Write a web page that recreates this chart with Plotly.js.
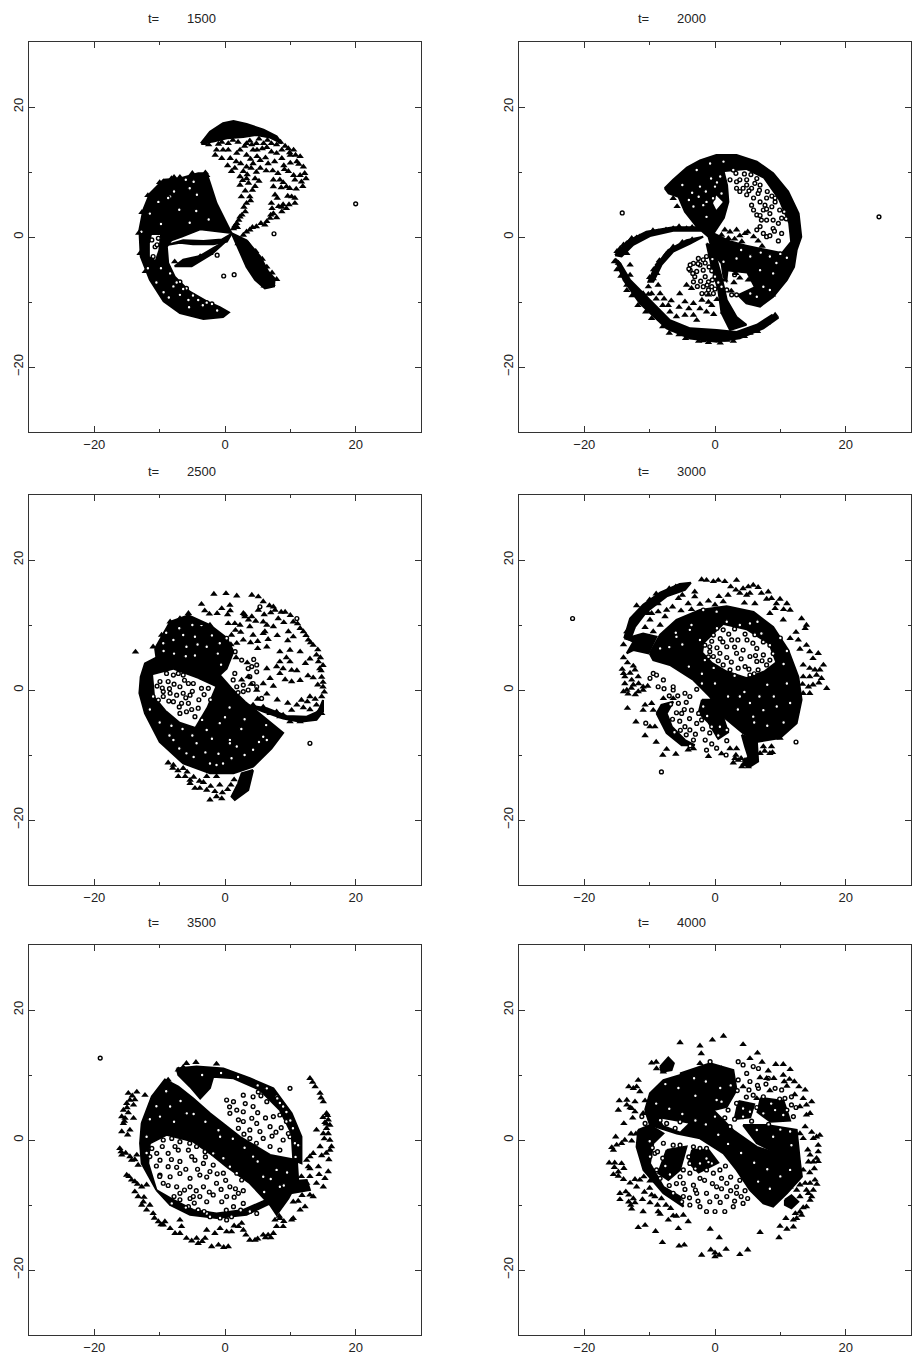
<!DOCTYPE html>
<html><head><meta charset="utf-8">
<script src="https://cdn.plot.ly/plotly-3.0.1.min.js"></script>
<style>html,body{margin:0;padding:0;background:#fff}</style></head>
<body><div id="chart" style="width:914px;height:1363px"></div>
<script>
const times=[1500,2000,2500,3000,3500,4000];
const tickValues=[-20,0,20];

const p1Black=[
[[-2.8,9.8],[-4.1,9.8],[-6.9,9.0],[-9.4,8.8],[-11.5,6.7],[-12.5,4.2],[-13.1,1.1],[-12.9,-3.0],[-11.5,-6.6],[-9.4,-9.9],[-6.9,-11.7],[-3.3,-12.6],[-0.3,-12.3],[0.6,-11.6],[-0.8,-10.8],[-2.8,-9.9],[-5.4,-8.4],[-7.7,-6.1],[-8.7,-4.0],[-8.9,-1.5],[-8.2,-0.5],[-6.6,0.05],[-3.8,1.2],[-0.3,0.8],[1.0,0.6],[0,2.6],[-1.3,5.2],[-2.3,8.3]],
[[-8.7,-1.2],[-6.4,-0.5],[-3.3,-0.6],[-0.5,-0.4],[1.0,0.5],[0.3,-0.7],[-1.8,-1.1],[-4.9,-1.1],[-6.9,-0.9]],
[[0.3,-0.5],[-2.0,-2.6],[-5.1,-4.5],[-7.7,-4.5],[-6.4,-3.5],[-3.8,-2.9],[-1.8,-1.7]],
[[-3.7,14.4],[-2.3,16.2],[-0.3,17.5],[1.3,17.85],[3.3,17.4],[5.9,16.5],[7.9,15.5],[8.7,14.4],[6.9,15.3],[4.8,15.7],[2.8,15.4],[0.3,15.2],[-1.8,14.7]],
[[1.0,0.6],[3.3,-0.5],[5.4,-3.0],[6.6,-5.3],[7.6,-6.4],[7.5,-7.6],[6.1,-7.9],[4.6,-6.6],[3.3,-4.6],[2.3,-2.25],[1.2,0.05]]
];
const p1White=[[[-11.2,0.3],[-9.95,0.3],[-10.2,-2],[-10.7,-3.5],[-11.5,-3],[-11.5,-1]]];
const p1Tri=[[-3.1,14.4],[-1.3,13.4],[-1.5,12.6],[-0.3,13.4],[0.5,13.4],[-0.5,12.1],[0.8,12.1],[1.8,12.9],[2.3,13.4],[3.3,14.4],[4.1,14.2],[4.3,13.4],[3.3,12.6],[4.8,14.4],[5.9,14.4],[7.1,14.4],[7.9,14.2],[7.1,13.1],[7.9,12.9],[8.7,13.4],[9.7,13.6],[10.5,13.4],[11.5,12.4],[11,11.6],[10,12.6],[8.7,12.1],[7.6,11.6],[6.6,11.3],[5.4,11.8],[4.3,11.3],[3.3,10.8],[1.5,10.6],[1,10.1],[2.8,10.1],[2.3,9.3],[4.6,9],[3.6,8.3],[2.3,8],[4.6,7.8],[3.8,6.2],[2.5,6.2],[3.3,5.2],[3.1,3.9],[2.3,3.1],[1.8,2.1],[1.3,1.3],[7.4,8.8],[8.4,8.8],[9.7,10.1],[10.5,9.5],[11.5,9.5],[12.2,9.8],[11.7,8.5],[10.7,8.8],[9.4,7.75],[7.4,7.75],[10.2,6.2],[7.65,6.5],[7.1,5.2],[8.2,4.7],[9.4,4.4],[10.7,5.2],[8.7,3.9],[7.4,3.6],[6.9,2.9],[6.1,1.85],[4.8,1.6],[3.8,1.1],[2.8,0.3],[-7.7,-3.8],[-5.9,-4],[-2.3,-2.5],[-3.8,-3],[-9.4,8.5],[-8.2,9],[-6.9,9.2],[-2.8,9.5],[3.8,14.8],[5.2,15.1],[6.5,14.9],[1.2,14.9],[-0.5,14.6],[3.4,9.6],[4,10.6],[9,11],[10,11.4],[3.1,7.1],[8,6],[8.9,5],[7.2,4.4]];
const p1TriB=[[-2.5,14.2],[-1,14.3],[0.5,14.4],[2,14.6],[3,14],[4.9,13.4],[5.7,13.6],[6.4,13.8],[8.5,14.6],[9.2,14],[9.9,13],[10.8,12.6],[11.3,11.2],[12,10.8],[12.4,9],[11.9,7.8],[10.9,7.4],[9.9,7.5],[8.9,8.4],[8.1,9.8],[7.3,10.2],[6.3,10.2],[5.4,10.6],[4.8,10],[5.2,8.6],[3.3,9],[2.7,8.7],[4.2,7.2],[3.9,5.6],[2.9,4.6],[2.6,3.4],[2.1,2.6],[1.5,1.7],[1.9,1.5],[7.9,3],[7,3.4],[6.4,2.4],[5.5,2.1],[4.2,1.5],[3.3,0.8],[8.7,4.6],[9.8,5],[9.6,6.3],[10.7,6],[3.9,12],[4.9,12.4],[6.2,12.2],[2.4,11.3],[1.7,11.6],[0.4,11],[9.1,10.4],[8.6,7.6],[-3,9.9],[-5,9.8],[-7.8,9.2],[-10,8.4],[-11.8,6.4],[-12.7,3.8],[-13.2,0.6],[-13,-2.5],[-12.2,-5.3],[2,-1],[3.5,-1],[4.7,-2.2],[5.7,-3.4],[6.4,-4.6],[7.2,-5.5],[7.9,-6.5],[7.2,-7.3],[6,-7.5]];
const p1Cir=[[7.5,0.5],[-1.2,-2.8],[-0.2,-6],[1.4,-5.8],[20,5.1],[-10.2,-0.2],[-10.7,-1.5],[-10.4,-1.2],[-11,-3],[-11.2,-0.45],[-8.4,6.2],[-8.7,6],[-12.8,0.8],[-8.4,-5.6],[-6.9,-6.9],[-7.9,-7.6],[-5.9,-7.9],[-6.9,-8.9],[-5.6,-9.7],[-4.1,-9.7],[-2.8,-10.1],[-2,-10.3],[-4.8,8.5],[-5.4,7.5],[-4.3,6.5],[-7.4,-7],[-6.4,-8],[-4.9,-9],[-3.4,-10.5],[-11.5,3.6],[-10.2,5.4],[-7.8,7],[-6,8.8],[-9.8,2],[-7,4.2],[-4.4,4],[-2.5,2.7],[-5.4,2.2],[-11.8,-4.8],[-10.5,-7],[-9.4,-8.5],[-8.6,-9.3],[-1.2,-11.3],[-5.5,-10.8],[-9.8,-4.8]];

const p2Black=[
[[-7.7,7.5],[-6.4,8.8],[-4.3,10.7],[-2.3,11.8],[0.2,12.6],[3.3,12.6],[6.4,11.6],[8.9,9.8],[11.2,7],[12.8,3.6],[13.2,0],[12.5,-2],[12.1,-4.6],[11,-6.6],[8.9,-9.2],[6.9,-10.7],[4.8,-10.2],[2.8,-8.2],[1.3,-6.1],[1,-4.05],[-0.3,-2.5],[-1,0.05],[-2.8,1.6],[-4.6,3.9],[-5.6,6.2],[-7.1,6.7]],
[[-15.3,-3.3],[-14,-6.6],[-11.5,-10.2],[-7.4,-14.05],[-3.8,-15.6],[0.25,-16.1],[3.8,-15.6],[7.4,-14.05],[9.7,-12.4],[8.7,-12],[6.4,-13.5],[3.3,-14.6],[0.25,-14.3],[-3.8,-14.05],[-6.9,-12.8],[-9.96,-9.7],[-13,-6.6],[-14.5,-4.05]],
[[-1.3,-1],[-0.3,-1.5],[1,-6.1],[1.8,-9.7],[3.3,-12.3],[4.8,-13.5],[2.3,-14.3],[1,-11.7],[0.5,-8.15],[-0.5,-4.6]],
[[-1.8,0.05],[-4.35,-0.5],[-7.15,-2],[-9.2,-4.6],[-10.2,-6.9],[-9.45,-6.9],[-8.2,-4.3],[-6.4,-2.25],[-3.8,-1]],
[[-15.3,-2.8],[-13.5,-0.7],[-10.5,0.8],[-6.4,1.5],[-2.55,1.5],[-2.3,0.97],[-6.4,0.97],[-9.96,0.15],[-12.5,-1.2],[-14.3,-3]]
];
const p2White=[
[[1.5,10],[4.8,10.3],[7.4,9],[9.7,5.7],[11.2,2.1],[11.5,-0.7],[10.2,-2.3],[7.4,-1.7],[4.8,-1.2],[2.3,-0.5],[0,0.6],[1.5,2.9],[2.2,5.4],[2,8]],
[[2.05,-5.3],[4.85,-5.6],[5.9,-7.65],[3.3,-8.9],[1.8,-7.65]],
[[0.2,6.4],[1.2,5.4],[0.2,4.2],[-0.3,5.2]]
];
const p2Tri=[[-13,-4.3],[-13,-5.85],[-8.7,-4.05],[-8.9,-5.6],[-9.45,-6.4],[-10.2,-7.65],[-8.7,-7.4],[-9.7,-8.7],[-8.4,-8.7],[-4.35,-7.4],[-3.6,-7.9],[-4.6,-9.95],[-5.4,-8.7],[-3.3,-10.2],[-7.15,-10.5],[-6.9,-11.5],[-5.9,-12.25],[-4.6,-12],[-3.3,-12],[-2.8,-12.8],[-1.3,-11.5],[-0.5,-10.5],[-1,-8.9],[-2,-9.7],[1.5,-10.2],[1.3,-11.5],[-6.4,5.95],[-5.8,4.7],[1,0.3],[1.5,1.1],[2.3,0.8],[3.3,1.1],[4.1,-0.7],[4.6,0.55],[5.9,0.05],[2.05,-0.2],[-14.5,-1.75],[-12.75,-0.2],[-11.5,0.05],[-8.7,0.8],[-6.4,1.3],[-4.35,1.3],[-13.5,-2.5],[-14.8,-4],[-13.5,-7.4],[-11.5,-9.2],[-8.9,-12.25],[-6.65,-14.3],[-1.8,-15.95],[1.8,-15.85],[5.35,-14.8],[9.2,-12],[3.8,-6.3],[2.9,-7],[5.1,-6.6],[3.2,-5.6]];
const p2TriB=[[-15,-2.2],[-14,-1.2],[-13,-0.6],[-12,-0.1],[-10.5,0.4],[-9.5,1],[-7.5,1.1],[-5.5,1.6],[-3.5,1.5],[-2.7,1.3],[-15.4,-3.8],[-15,-5],[-14.4,-6],[-13.5,-8.2],[-12.7,-9],[-11.8,-10.5],[-10.6,-11.5],[-9.7,-12.5],[-8,-13.8],[-7,-14.8],[-5.5,-15],[-4.5,-15.6],[-2.5,-16],[-1,-16.2],[0.8,-16.3],[2.8,-16],[4.5,-15.3],[6.5,-14.5],[8,-13.2],[-10,-6.2],[-9.4,-5],[-8.5,-3.6],[-7.5,-2.7],[-6.4,-1.5],[-5,-0.8],[-3.5,-0.4],[-10.2,-8.8],[-9,-9.5],[-8,-10.5],[-7.8,-9.5],[-6.7,-9.8],[-5.5,-10.8],[-4,-11],[-2.3,-11],[-1,-10],[-0.2,-11.9],[0.3,-9.6],[-10.5,-9.5],[-11,-8.7],[4.7,-9.2],[5.7,-10],[7.2,-9.9],[8.8,-8.9],[9.6,-7.6],[10.4,-6.6],[11,-5.2],[8,-6.6],[7,-6],[5.8,-6.2],[4.5,-5.2],[6,-4.6],[3.3,-4.5],[2,-4.7],[1.5,-6.6],[2.5,-8.3],[6.6,-0.6],[7.2,-1.4],[3,-0.3],[3.8,0.2],[5,0.8]];
const p2Cir=[[25.1,3.1],[-14.2,3.7],[2.8,10.3],[2.3,8.8],[3.3,8.5],[3.8,8.8],[4.85,8.8],[6.4,9],[6.9,8],[3.3,7.5],[4.3,7.5],[5.6,7.5],[6.6,6.7],[4.85,6.5],[5.9,6],[6.9,5.4],[7.9,6],[5.6,4.9],[5.9,4.15],[6.4,3.4],[7.4,4.15],[8.4,3.6],[7.9,2.6],[8.9,2.6],[6.9,1.6],[7.4,0.55],[8.9,1.3],[9.9,4.15],[8.7,4.65],[9.7,2.1],[10.2,0.55],[7.9,0.05],[9.2,5.4],[10.2,2.9],[6.4,1.1],[7.1,2.6],[4.85,8],[6.1,8.25],[3.8,7],[7.65,4.9],[-1.3,-3],[-1.8,-3.5],[-2.55,-3.3],[-3.3,-4.05],[-3.8,-5.1],[-2.8,-5.3],[-1.8,-5.1],[-3.3,-6.9],[-1.8,-7.65],[-1,-6.9],[-1,-8.15],[-2,-8.7],[-1.3,-8.7],[-0.25,-8.7],[1.8,-8.15],[2.55,-8.9],[0,-6.1],[-3.8,-4.3],[-2.3,-4.3],[-3.1,-6.1],[-1.5,-6.1],[-0.5,-7.65],[1,-7.65],[3.3,-8.9],[-0.3,5.95],[-1.3,5.4],[-1.8,4.9],[0,7.75],[-2.3,7.75],[-3.3,4.7],[-1.3,3.1],[1,6.7],[8.4,-3],[5.4,-3],[3.3,-3.3],[1.3,-3.8],[9.4,-4],[6.9,-5.1],[8.9,-5.6],[7.4,-7.65],[5.4,-8.7],[8.4,-8.15],[6.4,-9.2],[-0.75,11.3],[1.3,11.6],[-2.8,10.3],[-4,-4.9],[-3.4,-5.6],[-2.6,-4.1],[-1.5,-4],[-0.9,-4.6],[-0.5,-5.2],[-0.4,-3.4],[-2.2,-6.8],[-2.7,-7.6],[-0.4,-6.6],[-1.2,-7.4],[0.5,-7],[0,-8],[8,7],[8.7,6.3],[9.2,6],[10.6,3.9],[10.9,2.8],[9.1,0.9],[8.4,0.2],[9.7,-0.6],[3.2,9.8],[4.5,9.7],[5.5,9.6],[5.2,7.1],[6.8,7.2],[7.9,4.3],[6.9,3.3],[-5,8],[-3.5,6.8],[-2.5,6.2],[-4,5.7],[-0.6,9],[0.8,9.3],[-1.4,7],[0.3,8.4],[4,-2],[7,-2.4],[10,-2.6],[11,-3.2],[3,-5.8]];

const p3Black=[
[[-12.9,2.05],[-12.25,4.1],[-10.5,5],[-7.4,4.6],[-3.8,4.1],[-0.8,2.3],[1,0.25],[3.05,-1.8],[5.85,-4.1],[8.9,-6.6],[7.1,-9],[4.3,-11.8],[1.3,-12.8],[-2.3,-12.8],[-6.4,-11.3],[-10,-8],[-12.25,-3.6],[-13.1,-0.5]],
[[-10.7,6.4],[-8.4,10.5],[-5.6,11.5],[-2.3,10],[0.25,8],[1.3,5.9],[0.25,3.3],[-0.8,2.3],[-3.8,4.1],[-10.5,5]],
[[4.3,-12.3],[3.55,-15.4],[1.5,-16.9],[1,-16.4],[2,-14.4],[2.55,-12.8]],
[[3.3,-2.3],[6.4,-2.8],[9.4,-4],[12.5,-4.1],[14.3,-3.3],[15,-1.55],[15,-3.3],[14,-4.6],[11.5,-4.9],[8.9,-4.4],[5.85,-3.3]]
];
const p3White=[[[-11,2.3],[-7.9,3.1],[-4.35,1.8],[-1.5,0.5],[-2.8,-2.6],[-4.6,-5.65],[-6.9,-4.9],[-9,-3.1],[-10.7,-1.05]]];
const p3Tri=[[-8.7,-11.2],[-7.9,-11.55],[-6.4,-12.05],[-7.15,-13.3],[-6.1,-13.3],[-5.35,-13.85],[-5.35,-14.35],[-4.6,-15.1],[-3.85,-15.1],[-2.8,-15.4],[-1.55,-15.6],[-2.3,-16.9],[-1.3,-16.4],[-0.5,-16.7],[-2.8,-13.3],[-1.3,-13.3],[-1.7,14.75],[0.15,14.85],[1.8,14.5],[4.1,14.6],[5.1,14.35],[5.85,13.6],[-3.6,13.2],[-3.1,12.2],[-2.4,11.7],[-0.5,12.55],[0.75,13.05],[2.8,11.8],[3.05,11.3],[4.1,11.3],[5.1,12.3],[5.85,10.5],[6.4,10],[6.1,9],[7.4,12.8],[7.65,12.3],[9.2,12],[8.15,11],[10.45,10.5],[7.4,9.75],[9.7,9],[11.5,9.5],[12,9],[10.45,8.2],[12.75,7.7],[13.5,6.9],[14,5.4],[14.3,4.35],[14.5,3.3],[14.8,2],[15,0.5],[14.8,-1],[14.5,-3.1],[14,-2.3],[13,-1],[11.7,-1.55],[11,-2.3],[10.2,-3.1],[8.9,-3.85],[7.9,-3.35],[5.85,-2.6],[4.3,-2.3],[6.4,6.65],[8.4,5.9],[9.95,6.15],[11.5,5.9],[8.4,4.35],[9.95,4.35],[6.4,3.3],[7.9,3.6],[10.2,3.05],[8.4,2.55],[11.5,1.5],[10.2,1.3],[6.9,1.8],[5.85,1],[4.85,0],[3.55,2.05],[2.55,1.55],[2.8,7.7],[1.8,7.2],[1,8.45],[0.5,10.25],[1.5,10.25],[2.3,10],[3.8,9.75],[5.85,8.7],[4.3,8.45],[6.9,-3.6],[8.4,-4.1],[9.95,-4.85],[11.5,-4.85],[13.5,-4.35],[14.8,-3.6],[-13.7,5.85],[-8.4,10.5],[-6.9,11],[-5.6,11.8],[-3.85,10.25],[-2.3,10],[-11,6.65],[-9.7,8.45]];
const p3TriB=[[-8,-12],[-7.2,-12.4],[-5.8,-12.6],[-4.8,-13.4],[-3.9,-14],[-3.3,-14.2],[-2.2,-14.8],[-0.8,-14.6],[-0.4,-15.8],[0.4,-15.3],[0.9,-14.6],[1.4,-13.8],[3,11.6],[3.6,10.8],[6.8,13],[7,11.9],[8.6,12],[10,11.5],[9,10.4],[11.1,10.2],[12.4,8.4],[13.1,7.3],[14.2,6.2],[14.6,5],[15,3.8],[14.7,3],[15,1.2],[15.2,-0.3],[14.2,0.8],[13.8,-1.4],[12.6,-1.8],[12,-2.7],[13,-3],[9.4,5],[8.9,3.3],[12.3,4.1],[13,4.8],[12.7,2.2],[13.5,1.9],[11,3],[9.2,1.6],[7.4,0.6],[6.4,-0.6],[5,-1.4],[8,-1.5],[9.6,-2],[4,0.9],[3.4,4.2],[5,6.4],[3.9,7.3],[5,7.5],[6.6,7.8],[8,8.4],[9.6,7.6],[6,11.6],[4.7,10.6],[0.8,12.2],[-1.2,11.8],[0.4,11.6],[1.6,9.2],[2.4,8.9],[0.9,7],[1.7,5]];
const p3Cir=[[2.55,4.6],[4.4,4.7],[4.1,3.6],[4.85,3.85],[3.55,3.3],[4.85,2.8],[3.8,2.05],[1.5,2.55],[1.25,1.55],[1.8,0.5],[2.8,0.75],[4.3,1],[4.85,0.5],[3.55,0],[2.8,-0.25],[2,-0.4],[5.6,-1.3],[5.35,12.8],[11,11],[13,-8.2],[-8.95,2.55],[-7.9,2.3],[-7.15,2.55],[-6.4,2.3],[-5.6,1],[-4.85,1],[-3.6,0.25],[-2.55,0.25],[-9.95,1.3],[-8.7,1.3],[-6.9,0.5],[-8.4,-0.5],[-7.4,-0.8],[-6.4,-0.5],[-9.45,-1],[-10.2,-1.55],[-7.9,-1.8],[-6.65,-2.05],[-5.6,-2.05],[-4.1,-2.8],[-5.9,-3.35],[-4.6,-4.1],[-6.9,-3.6],[-9.45,-0.25],[-5.35,-0.8],[-2.3,-11.3],[-1.3,-11.55],[-0.3,-11.3],[-4.35,-8.2],[0.75,-7.7],[5.85,-7.2],[-7.9,-7.7],[-5.9,-9.75],[-0.8,-5.1],[-2.8,-6.15],[1.8,-8.7],[4.3,-9.2],[6.4,-7.7],[0.75,-8.2],[-4.6,8.2],[-6.4,8.45],[-3.6,10],[0.25,7.95],[1.55,5.9],[-0.8,7.2],[-7.9,7.7],[-9.45,7.2],[-5.9,6.65],[-2.8,6.65],[-8.5,0.2],[-6.2,1.5],[-5,-0.2],[-4,-1.5],[-5.1,-3],[-6,-1.2],[-7,-2.6],[-8.6,-1.7],[-9.6,0.3],[-10.4,0.6],[-7.8,0.9],[-3.2,-0.7],[-2.2,-1.5],[-11,-1],[-11.5,-3],[-10,-5],[-8.5,-7],[-7,-9],[-4.8,-10.3],[-3,-9.6],[-1,-9.8],[1,-10.5],[3,-10],[5.2,-8],[2.5,-6],[0,-4.2],[-2,-7.5],[-5,-7],[-6.5,-6],[-8.2,-5.5],[-3.5,-4.6],[0.7,-2.7],[3,-4.5],[6.3,-5.4],[-9,8.8],[-7,9.5],[-5,10],[-4.2,7],[-2,8.4],[-1.1,5.6],[-7.8,5.6],[-9.4,6],[-6,5.2],[-4.6,5.3],[-0.6,3.9]];

const p4Black=[
[[-10,5.6],[-8.4,8.5],[-5.9,10.8],[-2.3,12.3],[1.8,12.9],[5.9,12],[8.9,9.7],[11.2,6.15],[12.75,2.05],[13.25,-1.5],[12.5,-5.1],[9.95,-7.4],[6.6,-7.95],[4.3,-6.65],[1.25,-4.1],[-0.8,-1],[-3.3,1.55],[-6.9,3.85],[-9.45,4.6]],
[[-8.95,-3.6],[-8.2,-2.3],[-6.4,-1.8],[-7.4,-3.6],[-6.6,-5.65],[-4.6,-7.7],[-3.1,-8.5],[-5.1,-8.5],[-7.4,-6.65]],
[[-13.9,7.95],[-13,11],[-11,13.1],[-8.4,15],[-5.4,16.3],[-3.7,16.5],[-4.6,15.4],[-7.4,14.4],[-10.5,12],[-12.25,9.7],[-13,7.7]],
[[-13.5,7.95],[-11,8.7],[-8.95,8.2],[-10.2,5.65],[-12.5,6.15],[-13.5,5.65],[-12.5,7.4]],
[[4.1,-6.9],[6.4,-7.7],[6.6,-11],[5.35,-11.8],[4.1,-11.5],[5.1,-10.25],[4.6,-8.7]],
[[-2,-1.5],[0,-1.5],[1.2,-4],[2,-6.5],[0.5,-7.5],[-1,-5],[-2.5,-3.5]]
];
const p4White=[[[-1.6,7.2],[1.3,10],[4.8,9.2],[8.2,7],[9.2,4.3],[7.5,3],[4.8,2],[1.8,3],[-0.4,4.3],[-1.8,5.8]]];
const p4Tri=[[-2.05,17],[-1.3,16.9],[-0.25,16.7],[0.5,16.9],[1.5,16.7],[3.3,16.9],[4.3,15.6],[5.1,15.9],[5.85,16.15],[6.6,15.8],[3.8,14.9],[5.35,14.9],[7.1,14.9],[8.15,15.1],[8.65,14.1],[9.95,14],[11,13.3],[11.5,12.3],[9.2,12.55],[8.4,11.8],[6.1,13.3],[4.85,14.6],[2,14.6],[1.25,13.6],[0,13.1],[-1,13.7],[-3.1,15.1],[-3.1,14.35],[-4.1,13.3],[-5.6,14.1],[-7.4,12.3],[-8.7,13.3],[-8.7,12.05],[-10.2,11.8],[-9.7,11.8],[-11.2,11.8],[-12.5,11],[-9.95,10.8],[-7.65,11.3],[-8.4,10],[-10.7,9.65],[-9.45,9],[-12.75,9.75],[11.5,7.95],[12.75,7.7],[13.25,11],[14,10],[13.8,9.5],[10.45,10.8],[14,6.9],[14.5,5.9],[15.8,5.65],[15,4.85],[13.5,3.85],[14.5,3.35],[16.6,3.85],[16.05,3.1],[14.5,2.05],[13.5,2.05],[15.55,2.3],[16.3,1.8],[14.3,0.5],[13.5,-0.5],[14.5,-0.5],[17.1,0.25],[-14,2.55],[-13.8,2.05],[-12.75,1.55],[-11.75,2.05],[-13.8,1],[-12.5,0.8],[-14,-0.25],[-13.5,0],[-11.75,-0.25],[-11,0],[-12.25,3.1],[-11,0.5],[-13.4,-2.8],[-12.1,-4.9],[-11,-3.1],[-9.7,-2.05],[-10.7,-2.3],[-9.45,-3.1],[-9.95,-5.65],[-9.2,-5.65],[-10.7,-7],[-7.4,-9.1],[-6,-9.85],[-4.1,-9.2],[-3.3,-9],[2.3,-9],[3.3,-9],[3.05,-10.5],[3.55,-10.8],[4.1,-11.8],[4.6,-10.8],[5.1,-11.8],[6.9,-9.75],[7.4,-8.7],[8.65,-8.7],[9.95,-7.4],[8.4,-9.75],[-6.4,-1.3],[-7.9,-1.3]];
const p4TriB=[[-12,13],[-10,13.9],[-9,14.8],[-7,15.6],[-6,15.9],[-12.8,10.2],[-13.5,9],[-14,7],[-14,5],[-13.4,4.2],[-12.5,3.7],[-14.2,3.2],[-13,2.6],[-12.8,0.3],[-13.3,-0.6],[-11.7,1],[-10.3,0.6],[-12.2,-0.7],[-5,14.6],[-6.5,12.8],[-5.2,12.2],[-3.6,12.4],[-2.3,13.2],[0.6,14.4],[2.4,15.9],[3.2,15.4],[4.5,13.4],[7.9,14],[9.4,13.3],[10.5,12.4],[12.4,8.9],[13,6.3],[15.3,3.1],[15,0.8],[15.9,1.1],[13.4,0.9],[-9,-8],[-8,-10],[-1,-10.2],[1,-9.8],[2.8,-11.2],[3.2,-10],[4,-10.5],[5.8,-10.4],[7.6,-9.4],[8.8,-9.6]];
const p4Cir=[[-21.8,11],[-1.8,12.3],[0.25,12.05],[-2.3,7.7],[-1.55,6.9],[-0.8,5.9],[-1.55,4.6],[-0.25,5.15],[0.75,5.65],[1.8,6.65],[2.55,7.7],[3.3,5.65],[4.3,6.15],[5.35,5.15],[6.4,6.4],[7.4,5.4],[8.4,6.9],[1.25,3.85],[2.3,3.1],[3.55,3.35],[5.35,2.3],[6.6,3.1],[7.9,3.85],[1.8,10.5],[3.8,10],[5.35,10.25],[7.1,8.7],[-0.25,8.45],[1.25,9.25],[-0.8,6.65],[-9.45,2.55],[-8.95,2.3],[-9.95,1.8],[-8.7,0.5],[-7.9,1.55],[-6.4,0],[-5.6,-2.05],[-3.85,-1],[-5.1,-3.6],[-3.6,-3.1],[-1.8,-2.55],[-2.8,-5.15],[-4.6,-5.65],[-3.85,-6.15],[-2.05,-4.6],[-0.5,-5.65],[0.75,-5.65],[1.8,-6.15],[-3.3,-7.7],[-1.3,-9.25],[-0.5,-8.3],[0.25,-8.95],[1.7,-10],[-10.6,-5.1],[-8.2,-12.6],[12.4,-8],[-6.4,0.5],[3.8,-1],[5.35,-2],[7.4,-3.1],[9.45,-2.55],[5.85,-4.1],[-5.9,8.2],[-3.85,9.25],[-6.9,6.65],[-0.5,7.5],[0.3,9.5],[0.8,7.9],[2.1,8.6],[3,9.4],[4.6,8.6],[4.9,7.7],[6.1,8.5],[7.4,7.4],[6.2,5.3],[5.8,7.2],[3.5,7.7],[3,6.6],[1.2,7.4],[0.3,6.5],[-1,5.1],[0.5,4.5],[1.8,5],[2.5,4.3],[4,4.8],[4.6,3.6],[6.4,4.4],[7.2,4.5],[8.4,4.6],[8.9,5.6],[5.2,3.2],[3,2.2],[6,2.5],[-0.2,3.4],[-7.8,0.2],[-7,-0.9],[-5.7,-0.9],[-4.6,-0.5],[-2.8,0.1],[-4.4,-1.9],[-6.8,-2.2],[-4.7,-3],[-5.9,-3.5],[-5.4,-4.8],[-3.9,-4.4],[-2.5,-3.6],[-1.2,-4],[-1.9,-6],[-3,-6.8],[-4.4,-6.9],[-0.8,-6.6],[0.5,-7],[1.8,-7.8],[-1.5,-7.7],[-3.8,-8.6],[-5.3,-6.2],[-6.2,-6.5],[-6.5,-4.5],[-7,6.6],[-5,7],[-4,3.6],[-2,2.5],[0,1],[2,-1],[3.5,-3],[6,-5],[8,-5.5],[10.5,-5],[11.5,-2],[11,1],[10.5,4],[11,6],[10,8],[6.5,10.5],[-3.6,10],[-6,8.8],[-2,1],[6.8,-1],[9,-1],[8,0.8],[4.5,-0.3],[-8.4,6.4]];

const p5Black=[
[[-12.75,2.6],[-11.2,6.7],[-9.2,9.3],[-7.15,8.2],[-4.85,6.4],[-2.3,4.1],[2.3,0.5],[6.9,-2.3],[11,-3.1],[11.2,-6.15],[9.7,-9],[7.9,-11.5],[6.9,-10],[3.8,-6.65],[0.25,-4.1],[-2.3,-2.05],[-4.85,-0.25],[-8.95,0.8],[-11.5,-0.5],[-11.75,-3.6],[-10.5,-7.7],[-12.75,-3.6],[-13,-0.5]],
[[-7.4,11],[-4.35,11.3],[-0.25,11],[3.8,9.5],[7.4,7.95],[10.2,4.1],[11.7,0.5],[11.7,-3.6],[10.45,-3.1],[10.2,1],[8.4,4.6],[5.35,7.7],[1.3,9.5],[-1.8,9.75],[-2.3,8],[-3.8,6.4],[-5.35,8.2],[-7.15,10]],
[[-10.5,-7.7],[-8.4,-10],[-5.35,-11.5],[-1.3,-12],[3.3,-11.5],[6.9,-9.75],[6.4,-9.2],[2.8,-10.75],[-1.3,-11.3],[-4.85,-10.75],[-7.9,-9.2]],
[[9.7,-6.4],[12.5,-6.15],[13,-7.7],[11,-8],[9.95,-8.2]]
];
const p5White=[];
const p5Tri=[[-14.8,7.2],[-13.5,7.4],[-12.25,6.9],[-14.55,6.15],[-15.05,5.65],[-14,5.4],[-15.55,4.6],[-15.8,3.6],[-14,3.35],[-15.3,3.35],[-15.55,2.55],[-15.8,1.3],[-14.55,1.55],[-16.1,-1.3],[-15.8,-2.3],[-14.55,-2.55],[-14.3,-3.1],[-13.5,-2.3],[-13.3,-3.85],[-15.05,-5.4],[-14.3,-6.15],[-13.8,-6.4],[-12.75,-7.2],[-12,-6.9],[-13.8,-7.95],[-13.3,-8.7],[-12.5,-9.5],[-12.75,-10],[-12,-10.75],[-11,-11.3],[-10.2,-12.55],[-9.2,-12.55],[-9.45,-13.05],[-7.65,-14.35],[-6.9,-12.3],[-6.65,-13.3],[-6.9,-14.35],[-5.9,-15.1],[-4.35,-15.1],[-4.1,-15.9],[-3.05,-15.1],[-2.8,-13.85],[-2.05,-16.4],[-1,-16.15],[-1.55,-14.35],[-0.75,-13.6],[0.25,-14.1],[1,-14.1],[0.5,-16.4],[2.05,-13.3],[2.8,-13.85],[3.8,-15.4],[4.6,-15.4],[2.55,-12.8],[5.85,-14.6],[6.6,-14.6],[7.4,-14.35],[7.65,-12.3],[8.4,-12.05],[7.9,-13.3],[8.9,-13.3],[10.2,-12.3],[10.45,-12.05],[11.5,-10.75],[12.25,-10.25],[10.45,-9.5],[13,-8.45],[13.5,-8.7],[14,-6.65],[15.05,-7.2],[15.8,-4.85],[15.3,-5.9],[14.3,-4.1],[12.75,-4.1],[11.7,-5.6],[12.5,-3.1],[13,-2.55],[13.5,-2.05],[14.55,-1],[15.05,1],[14,1.55],[16.3,-1],[16.05,0],[15.55,1.8],[15.8,3.1],[15.55,4.1],[15.05,5.9],[14.55,7.2],[13.8,8.2],[13,9.5],[-7.15,10.8],[-5.9,11.8],[-4.45,11.95],[-1.3,11.7],[-8.7,9.25],[10.45,-6.65],[11.5,-7.2],[12.5,-6.65],[10.2,-7.7],[13,-5.6],[16.05,-1.55],[15.8,1],[16.05,2.3]];
const p5TriB=[[-14.2,6.8],[-13.8,6.2],[-15,5],[-14.8,4.2],[-15.4,2.9],[-14.9,0.8],[-15.9,-1.8],[-15.2,-2],[-13.8,-3],[-14.7,-5.6],[-13.4,-6.8],[-12.4,-8.8],[-11.5,-10],[-10.8,-12],[-9.8,-13],[-8.4,-13.6],[-5.1,-15.5],[-3.5,-15.6],[-0.2,-16.5],[1.4,-13.2],[3.2,-14.6],[5,-15.2],[6.2,-15],[7,-15],[9,-12.5],[8.3,-11.7],[11.2,-9.4],[11.8,-8.5],[12.4,-7.4],[11,-6.9],[13,-4.4],[14.4,-5.3],[14.8,-2.4],[15.5,-2],[15.9,-3],[15.2,0.2],[15.3,2.7],[15,3.5],[15.7,3.8],[15.5,2.5],[14.7,6.5],[13.4,8.9],[-6.5,10.6],[-6.4,11.2]];
const p5Cir=[[-19.1,12.6],[9.95,7.95],[0.25,6.15],[1.3,5.9],[2.8,6.9],[4.3,6.65],[5.1,7.4],[6.4,7.95],[7.9,6.65],[8.9,5.15],[6.4,5.9],[4.3,5.15],[2.8,4.35],[1.8,4.6],[0.75,4.1],[4.1,3.35],[2.05,3.1],[2.8,2.85],[4.85,2.55],[7.4,3.6],[8.4,3.85],[9.4,2.85],[6.9,2.05],[5.35,1.3],[2.05,1.8],[3.8,1.55],[3.8,0.25],[5.85,0.25],[8.9,0],[9.95,0.5],[10.7,-0.5],[8.4,-1.55],[6.9,-1],[-9.45,0],[-8.15,0.25],[-6.9,-0.25],[-5.6,-1.55],[-4.35,-1],[-3.05,-1.8],[-1.8,-2.05],[-7.15,-1.55],[-8.7,-2.05],[-10.45,-2.05],[-11.5,-2.55],[-8.7,-4.1],[-6.9,-3.3],[-5.1,-2.55],[-4.6,-3.1],[-3.3,-3.6],[-1.8,-3.85],[-0.25,-2.8],[0.75,-4.1],[1.8,-5.1],[2.55,-6.15],[-0.25,-5.1],[-2.3,-4.85],[-3.85,-5.4],[-5.35,-5.9],[-6.9,-5.15],[-8.4,-5.65],[-9.95,-5.4],[-9.45,-6.65],[-7.4,-7.2],[-5.35,-7.2],[-3.3,-7.2],[-1.3,-6.65],[0.75,-7.2],[2.05,-8.2],[0.25,-8.7],[-1.8,-8.45],[-3.85,-8.7],[-5.35,-9],[-6.9,-9.2],[-8.15,-9.75],[-5.6,-10.25],[-4.1,-10.75],[-2.8,-11.3],[-0.75,-12],[2.8,-9.75],[4.85,-11.3],[1.3,-10.25],[-4.85,-8.7],[-6.9,-8.2],[-9.95,-3.1],[-11.2,-1.3],[-7.65,-1],[-2.3,-11.8],[0.25,-12.3],[3.8,-11],[-5.85,4.1],[-8.4,5.15],[-9.95,3.6],[-0.75,0.5],[4.3,-2.55],[5.85,-5.65],[8.4,-7.2],[7.9,-4.6],[5,4.2],[6.2,3.4],[7.8,1.2],[8.6,1.9],[9.7,1],[7.2,0.6],[4.8,-0.5],[2.9,0.9],[0.7,5.1],[3.1,5.6],[5.5,6.8],[8.4,5.7],[9.4,4.3],[-10.5,-4],[-10,-5.6],[-8.7,-7],[-8.2,-3],[-7.4,-4.2],[-6,-4.5],[-4.2,-4.5],[-2.8,-5.7],[-1.2,-5.2],[0.1,-6.2],[1.6,-7.5],[-0.6,-7.6],[-2.4,-8],[-4.4,-7.8],[-6.2,-7.7],[-7.8,-8.7],[-9.6,-1],[-5.4,-0.5],[-3,-2.6],[1.4,-8.8],[-0.5,-9.5],[-2.8,-9.5],[-4.7,-9.7],[-6,-10.4],[-3.2,-11],[1,-11.8],[2.4,-10.8],[0.2,-10.8],[2.8,-7.8],[-9,7.5],[-10.5,5.2],[-11.5,3.2],[-6.8,6],[-4.8,4],[-7.8,2.8],[-3,2.8],[-1,1.5],[1.2,0.2],[3,-1.2],[5,-3.3],[7,-6],[6,-8],[9,-7],[9.5,-5],[-12,-2],[-12,0.5],[-3.5,10],[-0.6,10.3],[2,9.7],[5,8.4],[8,6.4],[10,3],[11.2,-0.8],[10.8,-2.6],[10.4,1.8]];

const p6Black=[
[[-10.7,4.6],[-9.95,7.2],[-7.9,9.2],[-5.35,10],[-2.8,8.2],[-0.25,4.6],[2.8,1.5],[6.4,-1.05],[9.4,-2.05],[13,-3.3],[13.3,-5.65],[11,-8.2],[8.9,-10.25],[7.4,-9.75],[5.35,-7.7],[3.3,-4.6],[1.3,-2.05],[-2.3,0.25],[-5.85,1],[-9.95,2.3]],
[[-11.75,1.55],[-9.95,2.3],[-7.9,1],[-9.45,-0.5],[-9.95,-3.6],[-7.9,-7.2],[-5.35,-8.7],[-4.85,-10.25],[-7.9,-8.2],[-10.95,-4.6],[-12,-1.05]],
[[-5.35,10.25],[-0.75,11.8],[2.8,10.75],[3.3,7.7],[1.8,5.1],[-0.25,4.6]],
[[-8.4,11.3],[-7.15,12.7],[-6.3,11.8],[-6.65,10.75],[-8.2,10.5]],
[[10.7,-9.2],[11.7,-8.5],[12.75,-9.5],[11.7,-10.5],[10.7,-10]],
[[4.3,2.3],[7.9,2.3],[12.5,1.55],[13,-3.3],[9.4,-2.05],[6.4,-0.5]],
[[-7.4,-1.55],[-4.35,-1],[-5.35,-4.6],[-7.15,-6.15],[-8.7,-5.1]],
[[7,6.5],[10.5,6],[11.5,3],[8.5,2.8],[6.5,4.3]],
[[3.6,6],[6,5.5],[5.4,3.5],[3,3.2]],
[[-3.5,-1.5],[-1,-1.5],[0.5,-3.5],[-2.5,-5],[-4,-3.5]]
];
const p6White=[[[-8.4,3.3],[-4.1,2.55],[-5.35,1.3],[-7.9,2.3]]];
const p6Tri=[[-5.35,15],[-2.3,14.5],[-0.4,15.4],[1.3,16],[4.3,14.7],[-2.1,13.3],[5.35,12.55],[6.5,13.4],[-9.7,11.85],[-8.95,11],[-12.5,7.95],[-13.2,8.2],[-11.75,9.2],[-12,8.2],[-11.5,7.45],[-14.65,6.05],[-13.5,6.15],[-14.8,4.6],[-12.25,5.9],[-10.7,6.05],[-12.75,4.85],[-12.25,4.35],[-11,4.1],[-13.95,2.55],[-12.85,0.95],[-12.1,0.95],[-15.2,0.5],[-13.8,0],[-12.75,-0.15],[-15.05,-0.75],[-15.8,-1.15],[-15.55,-1.55],[-16.2,-3.5],[-15.35,-3.5],[-14.3,-3.6],[-13.95,-4.35],[-14.8,-4.9],[-15.55,-5.3],[-14.8,-5.55],[-14,-6.05],[-12.25,-6.05],[-11.5,-6.15],[-9.95,-6.3],[-12,-7.2],[-10.9,-5.65],[-14.55,-8.2],[-13.65,-7.95],[-13.2,-8.45],[-14.55,-9.15],[-12.5,-9],[-12.25,-9.65],[-11.1,-9.15],[-12.9,-10],[-12.75,-10.6],[-9.95,-9.65],[-9.2,-8.7],[-9.7,-8.45],[-7.5,-10],[-8.7,-11],[-8.4,-11.4],[-7.15,-12.3],[-6.4,-11.65],[-5.9,-11.7],[-4.85,-11.55],[-4.1,-12.55],[-5.6,-13.6],[-10.7,-13.1],[-11.75,-13.45],[-9.1,-14.05],[-8.05,-15.75],[-5.5,-16.3],[-4.7,-16.15],[-0.75,-13.7],[0.65,-15],[-2.05,-17.7],[-0.65,-16.9],[0,-17.35],[0,-17.95],[0.65,-17.7],[1.7,-16.8],[3.8,-17.6],[5,-16.9],[6.9,-14.2],[9.8,-15],[9.95,-13.25],[11,-13.7],[12,-13.35],[10.85,-12.05],[12,-12.3],[12.5,-12.05],[13.25,-11.55],[13,-11.05],[14,-10.25],[14.55,-9.25],[14.3,-8.2],[15.05,-7.7],[15.3,-6.15],[13.8,-6.65],[13,-6.9],[15.05,-3.35],[14.3,-3.35],[15.55,-2.8],[14.55,-2.3],[15.8,-1.8],[15.05,0.25],[15.55,0.5],[16.05,0.75],[15.8,-0.8],[13.5,0.25],[13.8,2.05],[14,3.85],[14.55,4.1],[14.8,5.9],[13.5,6.4],[13,5.15],[13.8,7.7],[12.85,8.2],[12.15,9],[11.4,9.35],[10.45,10],[11.5,10.85],[10.45,11.65],[9.3,11.65],[8.15,10.65],[7.9,9.5],[-2.3,11.8],[1,11],[-7.9,10.5],[4.3,8.2],[6.4,6.4],[7.9,5.4],[14.55,-6.65],[14,-7.7],[13,-8.7],[12.5,-7.7],[11.5,-7.2]];
const p6TriB=[[-13.5,5.4],[-13,5],[-12.6,3.4],[-14.3,-0.5],[-15.4,-4.2],[-13,-6.6],[-13.2,-9.5],[-10.8,-8],[-10,-7.4],[-8.2,-9],[-6.8,-10.5],[-8.8,-10],[12.3,-11.3],[13.5,-10.4],[14.8,-8.7],[15.6,-6.8],[14.5,-5],[15.2,-4.4],[15.8,-3.3],[13.5,-4.6],[14.2,-1.5],[14.8,1.2],[14,5.4],[12.2,7],[11,8.3],[9,9.5],[8.4,7.6],[6.9,9.6],[7.2,12],[-9,12],[-7.9,7],[10.6,9],[13,1],[-11,-11]];
const p6Cir=[[-0.75,12.05],[3.55,12.05],[4.3,11.55],[5.85,11.3],[6.65,11],[3.55,9.25],[4.85,10.25],[5.35,9],[6.65,7.95],[8.15,9.5],[9.2,7.95],[10.2,7.7],[11.7,6.65],[10.7,6.4],[11.7,5.4],[5.85,6.9],[7.4,6.65],[0.25,6.15],[1,5.9],[3.3,5.65],[2,4.6],[4.3,4.85],[5.35,4.35],[7.4,4.1],[9.2,4.6],[10.45,3.85],[11.5,1.3],[11.7,-0.8],[8.9,0.5],[0,3.6],[2.3,2.05],[4.3,3.6],[6.4,1.55],[-8.4,3.05],[-7.4,2.55],[-5.35,2.8],[-6.1,1.8],[-9.95,-2.55],[-9.2,-2.05],[-7.9,-0.5],[-6.4,-0.8],[-5.35,-0.8],[-3.3,-1.05],[-2.3,-1.3],[-1.3,-1.3],[-1.3,-2.85],[-0.25,-5.1],[0.75,-4.6],[-1.3,-4.6],[-2.3,-3.6],[-3.85,-3.6],[-4.85,-4.6],[-5.35,-5.65],[-3.85,-5.1],[-2.3,-5.9],[-3.3,-6.95],[-4.85,-6.65],[0.25,-7.2],[1.8,-6.65],[3.3,-7.2],[3.3,-8.2],[1.8,-8.7],[0.25,-8.7],[-1.3,-8.2],[-2.8,-8.2],[-4.85,-8.7],[-6.4,-8.2],[-5.1,-9.5],[-3.85,-10],[-2.3,-10.25],[-1.3,-11],[0,-11],[1.5,-11],[2.8,-10.25],[4.3,-9.75],[-8.4,-5.9],[-8.95,-4.6],[-11.2,3.6],[-10.7,2.55],[1,-5.9],[-0.5,-3.6],[-10,-0.2],[-9.6,-1.2],[-8.8,-1.8],[-8,-2.8],[-7.6,-4],[-6.9,-5.3],[-5.9,-6.7],[-7,-7],[-3,-7.7],[-1.6,-6.2],[-0.4,-6.7],[1,-7.5],[2.4,-7.8],[4,-8.7],[5,-9],[3,-9.4],[0.8,-9.6],[-0.8,-9.5],[-2.6,-9.4],[-3.9,-8.9],[-4.6,-7.6],[-1,-3.4],[-3,-4.4],[-4,-2.6],[1.6,-4],[2.4,-5.7],[3.8,-6.2],[4.6,-7.8],[7.8,8.6],[9.9,6.3],[8.6,5.6],[6.4,5],[4.8,6.6],[3.4,7.6],[2.4,8.4],[5.2,7.7],[3,3.2],[1.5,3.4],[5.6,2.9],[8.2,2.4],[10,1.6],[12,3.6],[12.4,5],[11,4.6],[6.5,8.4],[0.8,8],[-1.4,9],[-3.2,9.5],[-3,6.8],[-5.6,8],[-7.6,8.6],[-9,5.6],[-7,4.8],[-5,4],[-3,3],[-1.4,2.4],[0.5,0.8],[2,-0.6],[4,-2],[6,-3.5],[8,-4.5],[10,-5.6],[11.5,-4.6],[8.4,-7.5],[6.6,-6.4]];

const panels=[
{black:p1Black,white:p1White,tri:p1Tri.concat(p1TriB),cir:p1Cir},
{black:p2Black,white:p2White,tri:p2Tri.concat(p2TriB),cir:p2Cir},
{black:p3Black,white:p3White,tri:p3Tri.concat(p3TriB),cir:p3Cir},
{black:p4Black,white:p4White,tri:p4Tri.concat(p4TriB),cir:p4Cir},
{black:p5Black,white:p5White,tri:p5Tri.concat(p5TriB),cir:p5Cir},
{black:p6Black,white:p6White,tri:p6Tri.concat(p6TriB),cir:p6Cir}
];

const W=914,H=1363,AX=[29,519],AY=[42,495,945],PW=392,PH=390;
const font={family:'"Liberation Sans",Arial,sans-serif',size:13,color:'#222'};
const flat=(polys,i)=>polys.flatMap(p=>[...p.map(q=>q[i]),p[0][i],null]);
const traces=[],layout={width:W,height:H,margin:{l:0,r:0,t:0,b:0},paper_bgcolor:'#fff',plot_bgcolor:'#fff',showlegend:false,font,annotations:[]};

panels.forEach((p,k)=>{
  const n=k+1,c=k%2,r=Math.floor(k/2),xn='x'+n,yn='y'+n;
  const base={xaxis:xn,yaxis:yn,hoverinfo:'skip',type:'scatter'};
  const axis={range:[-30,30],tickmode:'array',tickvals:tickValues,ticktext:tickValues.map(v=>v<0?'\u2212'+(-v):String(v)),ticks:'inside',ticklen:6,tickwidth:1,tickcolor:'#333',
    showline:true,linecolor:'#333',linewidth:1.2,mirror:'ticks',showgrid:false,zeroline:false,tickfont:font,
    minor:{tickvals:[-10,10],ticks:'inside',ticklen:3,tickwidth:1,tickcolor:'#333',showgrid:false}};
  layout['xaxis'+n]=Object.assign({},axis,{anchor:yn,domain:[AX[c]/W,(AX[c]+PW)/W]});
  layout['yaxis'+n]=Object.assign({},axis,{anchor:xn,tickangle:-90,domain:[1-(AY[r]+PH)/H,1-AY[r]/H]});
  traces.push(Object.assign({},base,{x:flat(p.black,0),y:flat(p.black,1),mode:'lines',fill:'toself',fillcolor:'#000',line:{color:'#000',width:2}}));
  if(p.white.length)traces.push(Object.assign({},base,{x:flat(p.white,0),y:flat(p.white,1),mode:'lines',fill:'toself',fillcolor:'#fff',line:{color:'#fff',width:0}}));
  traces.push(Object.assign({},base,{x:p.cir.map(q=>q[0]),y:p.cir.map(q=>q[1]),mode:'markers',marker:{symbol:'circle',size:3.8,color:'#fff',line:{color:'#000',width:1.4}}}));
  traces.push(Object.assign({},base,{x:p.tri.map(q=>q[0]),y:p.tri.map(q=>q[1]),mode:'markers',marker:{symbol:'triangle-up',size:6.5,color:'#000'}}));
  const ty=1-(AY[r]-23)/H;
  layout.annotations.push({xref:'paper',yref:'paper',x:(AX[c]+124)/W,y:ty,text:'t=',showarrow:false,font,xanchor:'center',yanchor:'middle'});
  layout.annotations.push({xref:'paper',yref:'paper',x:(AX[c]+172)/W,y:ty,text:String(times[k]),showarrow:false,font,xanchor:'center',yanchor:'middle'});
});
Plotly.newPlot('chart',traces,layout,{displayModeBar:false,staticPlot:true});
</script></body></html>
